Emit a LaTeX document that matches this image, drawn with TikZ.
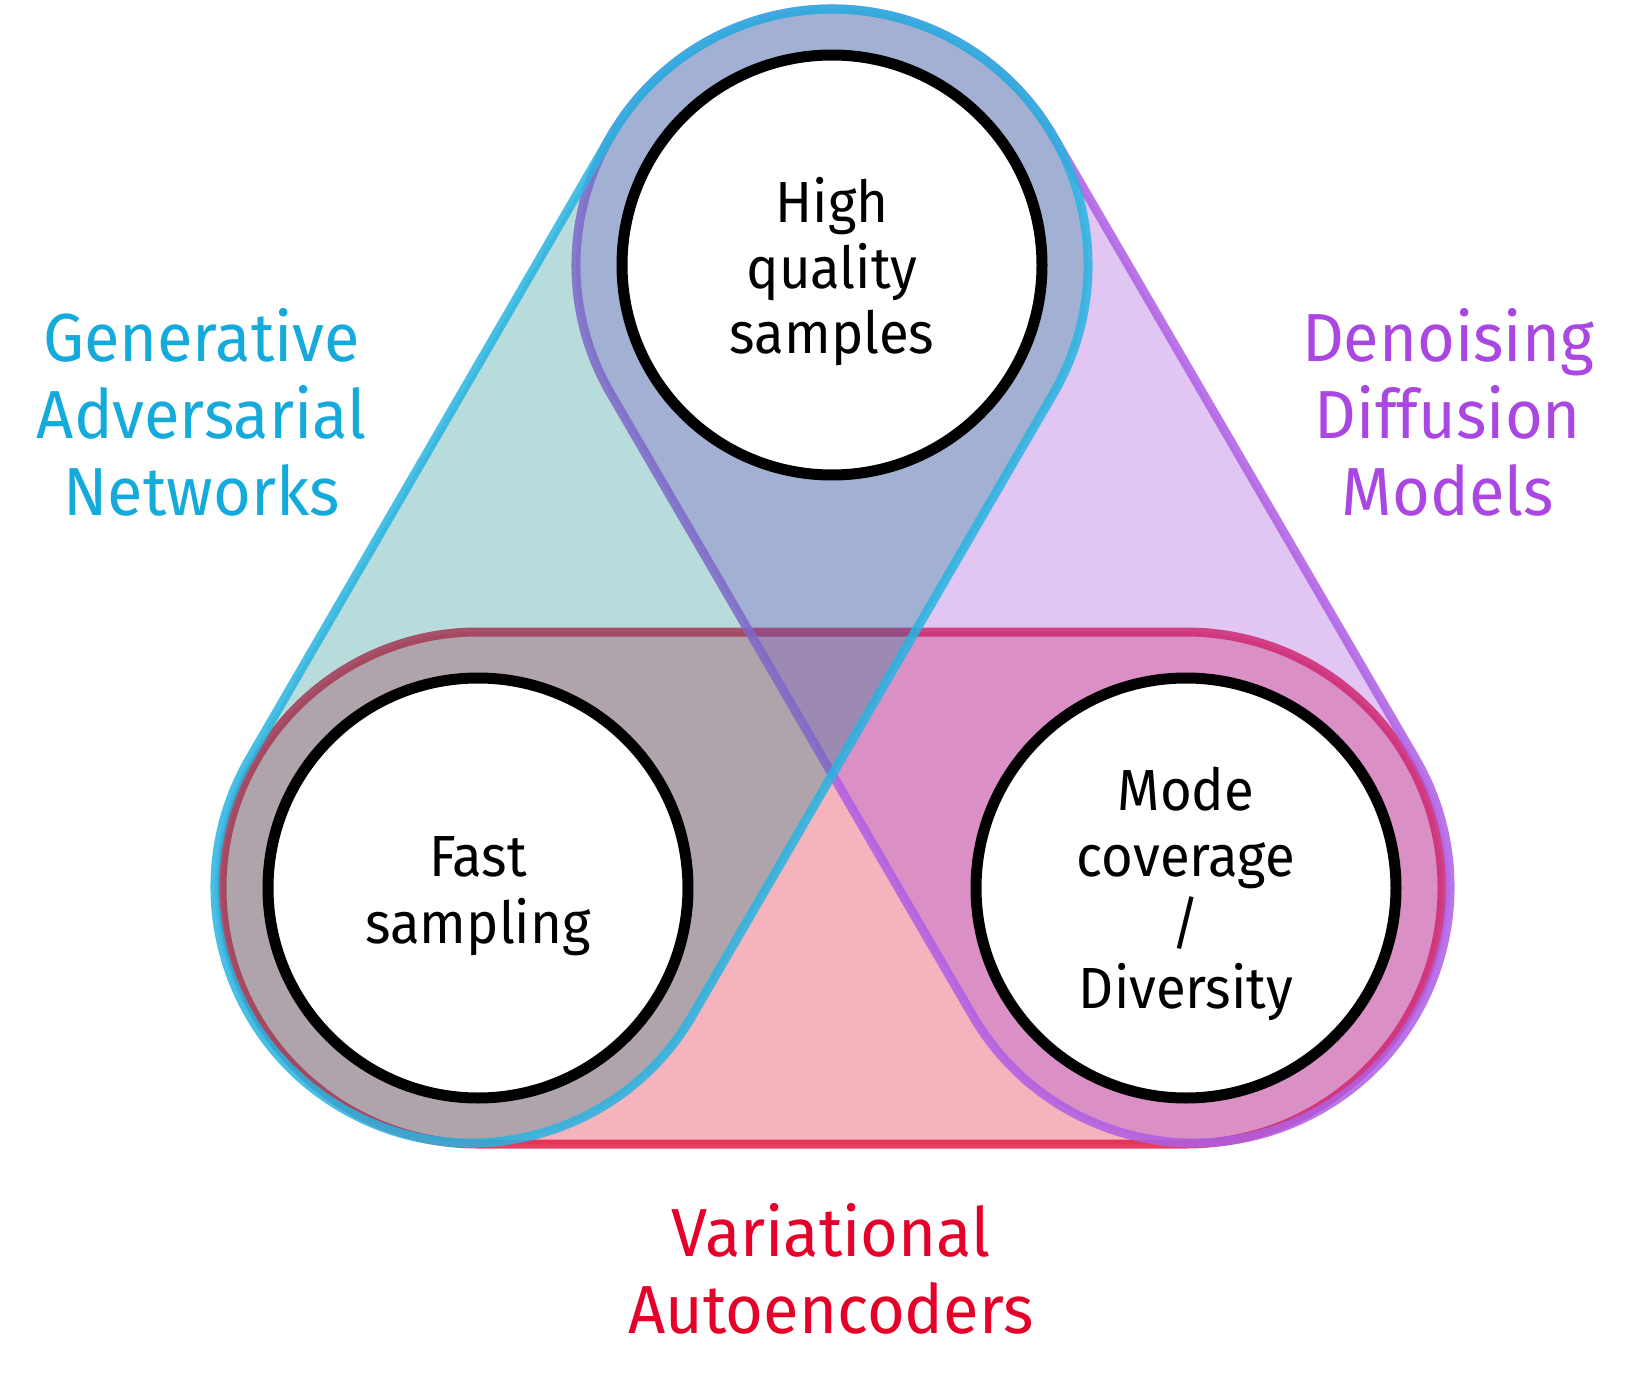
\documentclass[tikz,border=0pt]{standalone}
\usepackage{fontspec}
\setmainfont[FakeStretch=0.955]{Fira Sans}
\newfontfamily\ringfont[FakeStretch=0.94]{Fira Sans}
\usetikzlibrary{calc}

\definecolor{ganfill}{RGB}{0,126,130}
\definecolor{ganline}{RGB}{40,180,225}
\definecolor{gantext}{RGB}{20,170,220}
\definecolor{ddmfill}{RGB}{158,65,218}
\definecolor{ddmline}{RGB}{175,95,228}
\definecolor{ddmtext}{RGB}{170,70,225}
\definecolor{vaefill}{RGB}{225,5,38}
\definecolor{vaeline}{RGB}{228,30,70}
\definecolor{vaetext}{RGB}{228,0,40}

\tikzset{
  capsule/.style={line width=9pt, line join=round},
  gancap/.style={capsule, draw=ganline, draw opacity=0.85, fill=ganfill, fill opacity=0.28},
  ddmcap/.style={capsule, draw=ddmline, draw opacity=0.85, fill=ddmfill, fill opacity=0.30},
  vaecap/.style={capsule, draw=vaeline, draw opacity=0.85, fill=vaefill, fill opacity=0.30},
  ring/.style={circle, draw=black, line width=11pt, fill=white, minimum size=420pt, inner sep=0pt},
  grouplabel/.style={inner sep=0pt, anchor=base, font=\fontsize{68}{77}\selectfont},
  ringtext/.style={inner sep=0pt, anchor=base, font=\ringfont\fontsize{58}{65}\selectfont, text=black},
}

\begin{document}
\begin{tikzpicture}[x=1pt,y=-1pt]
  \useasboundingbox (0,0) rectangle (1650,1388);
  \fill[white] (0,0) rectangle (1650,1388);

  % centres of the three property circles
  \coordinate (T) at (832,265);
  \coordinate (L) at (478,888);
  \coordinate (R) at (1186,888);
  % end centres of the slanted capsules
  \coordinate (Lg) at (471,887);
  \coordinate (Rd) at (1194,887);

  % Variational Autoencoders: horizontal capsule
  \filldraw[vaecap] ($(L)+(-90:256)$) -- ($(R)+(-90:256)$)
      arc[start angle=-90, end angle=90, radius=256]
      -- ($(L)+(90:256)$)
      arc[start angle=90, end angle=270, radius=256] -- cycle;

  % Denoising Diffusion Models: top-right capsule
  \filldraw[ddmcap] ($(T)+(149.8:256)$)
      arc[start angle=149.8, end angle=329.8, radius=256]
      -- ($(Rd)+(-30.2:256)$)
      arc[start angle=-30.2, end angle=149.8, radius=256] -- cycle;

  % Generative Adversarial Networks: top-left capsule
  \filldraw[gancap] ($(T)+(210.13:256)$)
      arc[start angle=210.13, end angle=390.13, radius=256]
      -- ($(Lg)+(30.13:256)$)
      arc[start angle=30.13, end angle=210.13, radius=256] -- cycle;

  % property circles
  \node[ring] (hq) at (T) {};
  \node[ring] (fs) at (L) {};
  \node[ring] (md) at (R) {};

  % text in the circles
  \node[ringtext] (hq1) at (832,223) {High};
  \node[ringtext] (hq2) at (832,288.5) {quality};
  \node[ringtext] (hq3) at (832,354) {samples};

  \node[ringtext] (fs1) at (478,876.5) {Fast};
  \node[ringtext] (fs2) at (478,943) {sampling};

  \node[ringtext] (md1) at (1186,810.5) {Mode};
  \node[ringtext] (md2) at (1186,876.5) {coverage};
  \node[ringtext] (md3) at (1186,943) {/};
  \node[ringtext] (md4) at (1186,1008.5) {Diversity};

  % model family labels
  \node[grouplabel, text=gantext] (gan1) at (201.5,362) {Generative};
  \node[grouplabel, text=gantext] (gan2) at (201.5,438.5) {Adversarial};
  \node[grouplabel, text=gantext] (gan3) at (201.5,515) {Networks};

  \node[grouplabel, text=ddmtext] (ddm1) at (1448,362) {Denoising};
  \node[grouplabel, text=ddmtext] (ddm2) at (1448,438.5) {Diffusion};
  \node[grouplabel, text=ddmtext] (ddm3) at (1448,515) {Models};

  \node[grouplabel, text=vaetext] (vae1) at (831,1256) {Variational};
  \node[grouplabel, text=vaetext] (vae2) at (831,1333) {Autoencoders};
\end{tikzpicture}
\end{document}
